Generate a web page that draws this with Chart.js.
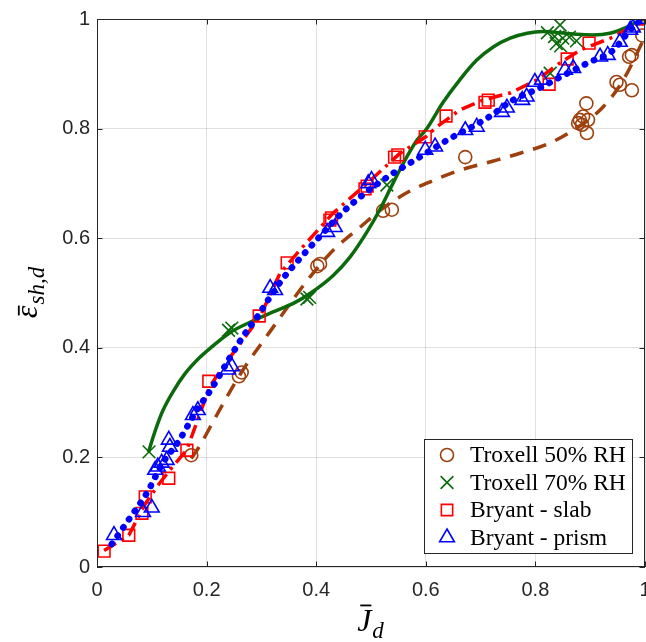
<!DOCTYPE html>
<html lang="en">
  <head>
    <meta charset="UTF-8" />
    <title>Normalised shrinkage strain</title>
    <script src="https://cdn.jsdelivr.net/npm/chart.js@4.4.0/dist/chart.umd.min.js"></script>
    <style>
      body {
        margin: 0;
        background-color: #ffffff;
      }
      #chart-container {
        position: relative;
        width: 646px;
        height: 642px;
      }
    </style>
  </head>
  <body>
    <div id="chart-container">
      <canvas id="strainChart"></canvas>
    </div>

    <script>
      const trox50X = [0.172, 0.259, 0.264, 0.402, 0.407, 0.522, 0.538, 0.672, 0.878, 0.881, 0.885, 0.887, 0.893, 0.894, 0.896, 0.948, 0.954, 0.976, 0.971, 0.976, 0.995];
      const trox50Y = [0.204, 0.348, 0.355, 0.549, 0.553, 0.650, 0.652, 0.748, 0.810, 0.816, 0.807, 0.822, 0.846, 0.792, 0.816, 0.885, 0.880, 0.870, 0.931, 0.934, 0.970];

      const trox70X = [0.095, 0.240, 0.246, 0.383, 0.388, 0.529, 0.827, 0.822, 0.835, 0.838, 0.845, 0.846, 0.850, 0.862, 0.875, 0.997];
      const trox70Y = [0.210, 0.432, 0.436, 0.489, 0.492, 0.697, 0.901, 0.975, 0.968, 0.955, 0.989, 0.951, 0.965, 0.967, 0.960, 1.000];

      const slabX = [0.013, 0.058, 0.082, 0.088, 0.131, 0.164, 0.204, 0.296, 0.347, 0.425, 0.428, 0.489, 0.493, 0.543, 0.549, 0.599, 0.637, 0.708, 0.714, 0.825, 0.858, 0.898, 1.0];
      const slabY = [0.029, 0.058, 0.098, 0.128, 0.162, 0.213, 0.339, 0.458, 0.555, 0.633, 0.637, 0.690, 0.695, 0.748, 0.752, 0.785, 0.823, 0.848, 0.852, 0.881, 0.927, 0.956, 1.0];

      const prismX = [0.031, 0.084, 0.100, 0.106, 0.111, 0.118, 0.127, 0.131, 0.133, 0.175, 0.184, 0.239, 0.246, 0.316, 0.325, 0.420, 0.434, 0.495, 0.501, 0.599, 0.617, 0.672, 0.693, 0.739, 0.748, 0.776, 0.784, 0.799, 0.812, 0.854, 0.869, 0.918, 0.932, 0.954, 0.973, 0.978, 0.996];
      const prismY = [0.058, 0.100, 0.108, 0.177, 0.183, 0.190, 0.195, 0.232, 0.219, 0.277, 0.286, 0.360, 0.366, 0.509, 0.505, 0.611, 0.620, 0.700, 0.706, 0.761, 0.767, 0.797, 0.803, 0.830, 0.838, 0.852, 0.858, 0.885, 0.889, 0.907, 0.910, 0.931, 0.934, 0.958, 0.980, 0.984, 1.0];

      // fitted curves
      const fit50X = [0.172, 0.188, 0.22, 0.266, 0.316, 0.37, 0.394, 0.431, 0.48, 0.522, 0.571, 0.613, 0.662, 0.72, 0.772, 0.827, 0.869, 0.923, 0.96, 1.0];
      const fit50Y = [0.198, 0.222, 0.28, 0.359, 0.43, 0.505, 0.536, 0.578, 0.62, 0.655, 0.686, 0.705, 0.724, 0.74, 0.755, 0.774, 0.797, 0.839, 0.888, 0.968];

      const fit70X = [0.094, 0.105, 0.12, 0.14, 0.16, 0.185, 0.21, 0.243, 0.28, 0.32, 0.36, 0.39, 0.431, 0.462, 0.493, 0.516, 0.535, 0.558, 0.584, 0.602, 0.631, 0.662, 0.693, 0.723, 0.754, 0.785, 0.814, 0.845, 0.876, 0.905, 0.936, 0.967, 0.995];
      const fit70Y = [0.21, 0.245, 0.285, 0.322, 0.352, 0.38, 0.402, 0.428, 0.447, 0.465, 0.482, 0.5, 0.532, 0.566, 0.612, 0.652, 0.69, 0.735, 0.779, 0.8, 0.847, 0.889, 0.925, 0.949, 0.965, 0.974, 0.977, 0.975, 0.972, 0.971, 0.974, 0.985, 1.0];

      const fitSlabX = [0.013, 0.058, 0.088, 0.109, 0.133, 0.164, 0.206, 0.243, 0.297, 0.334, 0.37, 0.431, 0.493, 0.553, 0.6, 0.62, 0.662, 0.704, 0.754, 0.803, 0.845, 0.881, 0.942, 1.0];
      const fitSlabY = [0.03, 0.058, 0.115, 0.146, 0.177, 0.214, 0.33, 0.383, 0.456, 0.536, 0.578, 0.646, 0.70, 0.755, 0.785, 0.803, 0.834, 0.852, 0.865, 0.889, 0.92, 0.943, 0.967, 1.0];

      const fitPrismX = [0.027, 0.066, 0.091, 0.12, 0.148, 0.182, 0.21, 0.243, 0.266, 0.292, 0.316, 0.339, 0.365, 0.401, 0.449, 0.485, 0.535, 0.589, 0.639, 0.712, 0.759, 0.808, 0.845, 0.896, 0.942, 0.973, 0.995];
      const fitPrismY = [0.042, 0.098, 0.135, 0.19, 0.228, 0.286, 0.327, 0.383, 0.42, 0.456, 0.493, 0.526, 0.557, 0.597, 0.648, 0.679, 0.715, 0.748, 0.779, 0.819, 0.852, 0.874, 0.894, 0.92, 0.943, 0.98, 1.0];

      const tickValues = [0, 0.2, 0.4, 0.6, 0.8, 1];

      const BROWN = "#9e400e";
      const GREEN = "#0b6a0b";
      const RED = "#ff0000";
      const BLUE = "#0000ff";
      const AXIS = "#262626";

      const toPoints = (xs, ys) => xs.map((x, i) => ({ x: x, y: ys[i] }));

      const legendItems = [
        { text: "Troxell 50% RH", color: BROWN, style: "circle", radius: 6.5 },
        { text: "Troxell 70% RH", color: GREEN, style: "crossRot", radius: 9 },
        { text: "Bryant - slab", color: RED, style: "rect", radius: 8 },
        { text: "Bryant - prism", color: BLUE, style: "triangle", radius: 8.5 },
      ];

      // draws a symbol with an overbar and a subscript, like the LaTeX labels
      function drawMath(ctx, main, sub, size, barTop) {
        const mainFont = "italic " + size + "px 'Liberation Serif'";
        const subFont = "italic " + Math.round(size * 0.72) + "px 'Liberation Serif'";
        ctx.font = mainFont;
        const wm = ctx.measureText(main).width;
        ctx.font = subFont;
        const ws = ctx.measureText(sub).width;
        const x0 = -(wm + ws) / 2;
        ctx.fillStyle = "#000";
        ctx.textBaseline = "alphabetic";
        ctx.textAlign = "left";
        ctx.font = mainFont;
        ctx.fillText(main, x0, 0);
        ctx.font = subFont;
        ctx.fillText(sub, x0 + wm + 1, size * 0.22);
        ctx.fillRect(x0 + wm * 0.22, -size * barTop - 1.5, wm * 0.78, 1.8);
      }

      const framePlugin = {
        id: "frame",
        // keep the plot box at the same place as the original figure
        afterLayout(chart) {
          const a = chart.chartArea;
          const x = chart.scales.x;
          a.right = 645;
          a.width = a.right - a.left;
          x.right = 645;
          x.width = x.right - x.left;
          x.configure();
        },
        afterDraw(chart) {
          const { ctx, chartArea: a, scales } = chart;
          ctx.save();
          ctx.strokeStyle = AXIS;
          ctx.lineWidth = 1;
          ctx.strokeRect(a.left + 0.5, a.top + 0.5, a.right - a.left - 1, a.bottom - a.top - 1);

          // ticks point inwards on all four sides
          const tl = 5.5;
          ctx.beginPath();
          tickValues.forEach((v) => {
            const px = Math.round(scales.x.getPixelForValue(v)) + 0.5;
            ctx.moveTo(px, a.bottom);
            ctx.lineTo(px, a.bottom - tl);
            ctx.moveTo(px, a.top);
            ctx.lineTo(px, a.top + tl);
            const py = Math.round(scales.y.getPixelForValue(v)) + 0.5;
            ctx.moveTo(a.left, py);
            ctx.lineTo(a.left + tl, py);
            ctx.moveTo(a.right, py);
            ctx.lineTo(a.right - tl, py);
          });
          ctx.stroke();

          // axis titles
          ctx.save();
          ctx.translate((a.left + a.right) / 2 - 1, 631);
          drawMath(ctx, "J", "d", 32, 0.78);
          ctx.restore();

          ctx.save();
          ctx.translate(37, (a.top + a.bottom) / 2);
          ctx.rotate(-Math.PI / 2);
          drawMath(ctx, "\u03b5", "sh,d", 32, 0.55);
          ctx.restore();

          // legend box
          const lx = 424, ly = 439, lw = 208, lh = 114;
          ctx.fillStyle = "#ffffff";
          ctx.fillRect(lx, ly, lw, lh);
          ctx.strokeStyle = AXIS;
          ctx.lineWidth = 1;
          ctx.strokeRect(lx + 0.5, ly + 0.5, lw, lh);
          legendItems.forEach((item, i) => {
            const cy = ly + 16 + i * 27.5;
            ctx.strokeStyle = item.color;
            ctx.fillStyle = "rgba(0,0,0,0)";
            ctx.lineWidth = 1.6;
            Chart.helpers.drawPoint(ctx, { pointStyle: item.style, radius: item.radius, rotation: 0, borderWidth: 1.6 }, 447, cy);
            ctx.fillStyle = "#000";
            ctx.font = "23.5px 'Liberation Serif'";
            ctx.textBaseline = "middle";
            ctx.textAlign = "left";
            ctx.fillText(item.text, 470, cy + 1);
          });
          ctx.restore();
        },
      };

      const markerSet = (label, xs, ys, color, style, radius, order) => ({
        label: label,
        data: toPoints(xs, ys),
        showLine: false,
        pointStyle: style,
        pointRadius: radius,
        pointBorderColor: color,
        pointBackgroundColor: "rgba(0,0,0,0)",
        pointBorderWidth: 1.6,
        order: order,
      });

      const fitSet = (xs, ys, color, width, dash, order, extra) =>
        Object.assign(
          {
            data: toPoints(xs, ys),
            showLine: true,
            pointRadius: 0,
            borderColor: color,
            borderWidth: width,
            borderDash: dash,
            fill: false,
            order: order,
          },
          extra
        );

      const ctx = document.getElementById("strainChart").getContext("2d");
      new Chart(ctx, {
        type: "scatter",
        data: {
          datasets: [
            fitSet(fitPrismX, fitPrismY, BLUE, 6.5, [0.5, 9.5], 1, { borderCapStyle: "round", cubicInterpolationMode: "monotone" }),
            markerSet("Bryant - prism", prismX, prismY, BLUE, "triangle", 8.5, 2),
            fitSet(fitSlabX, fitSlabY, RED, 3.5, [14, 6, 3, 6], 3, {}),
            markerSet("Bryant - slab", slabX, slabY, RED, "rect", 8.3, 4),
            fitSet(fit70X, fit70Y, GREEN, 3.5, [], 5, { cubicInterpolationMode: "monotone" }),
            fitSet(fit50X, fit50Y, BROWN, 3.5, [14, 10], 6, { cubicInterpolationMode: "monotone" }),
            markerSet("Troxell 70% RH", trox70X, trox70Y, GREEN, "crossRot", 9, 7),
            markerSet("Troxell 50% RH", trox50X, trox50Y, BROWN, "circle", 6.5, 8),
          ],
        },
        options: {
          responsive: true,
          maintainAspectRatio: false,
          animation: false,
          layout: { padding: { top: 19, right: 1, left: 0, bottom: 0 } },
          plugins: {
            legend: { display: false },
            tooltip: { enabled: false },
          },
          scales: {
            x: {
              type: "linear",
              min: 0,
              max: 1,
              afterBuildTicks: (scale) => {
                scale.ticks = tickValues.map((v) => ({ value: v }));
              },
              afterFit: (scale) => {
                scale.height = 75;
                scale.paddingLeft = 0;
                scale.paddingRight = 0;
              },
              ticks: {
                color: AXIS,
                font: { family: "'Liberation Sans'", size: 20 },
                padding: 11,
                maxRotation: 0,
                callback: (v) => String(+v.toFixed(1)),
              },
              grid: { color: "rgba(38,38,38,0.14)", drawTicks: false },
              border: { display: false },
            },
            y: {
              type: "linear",
              min: 0,
              max: 1,
              afterBuildTicks: (scale) => {
                scale.ticks = tickValues.map((v) => ({ value: v }));
              },
              afterFit: (scale) => {
                scale.width = 97;
                scale.paddingTop = 0;
                scale.paddingBottom = 0;
              },
              ticks: {
                color: AXIS,
                font: { family: "'Liberation Sans'", size: 20 },
                padding: 7,
                callback: (v) => String(+v.toFixed(1)),
              },
              grid: { color: "rgba(38,38,38,0.14)", drawTicks: false },
              border: { display: false },
            },
          },
        },
        plugins: [framePlugin],
      });
    </script>
  </body>
</html>
